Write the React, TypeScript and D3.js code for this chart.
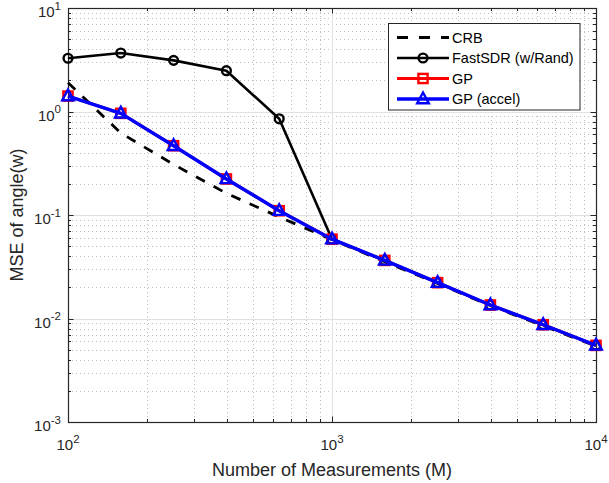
import React from 'react';
import * as d3 from 'd3';

const measurements = [100, 158.49, 251.19, 398.11, 630.96, 1000, 1584.9, 2511.9, 3981.1, 6309.6, 10000];
const crbValues = [1.9, 0.62, 0.308, 0.162, 0.0957, 0.0578, 0.0354, 0.0218, 0.0133, 0.0085, 0.0054];
const fastSdrValues = [3.27, 3.67, 3.12, 2.48, 0.85, 0.0584, 0.0364, 0.0222, 0.0135, 0.0087, 0.0055];
const gpValues = [1.41, 0.96, 0.467, 0.223, 0.110, 0.0584, 0.0364, 0.0222, 0.0135, 0.0087, 0.0055];
const gpAccelValues = [1.41, 0.96, 0.467, 0.223, 0.110, 0.0584, 0.0364, 0.0222, 0.0135, 0.0087, 0.0055];

const xTickValues = [100, 1000, 10000];
const xTickExps = ['2', '3', '4'];
const yTickValues = [1e-3, 1e-2, 1e-1, 1, 10];
const yTickExps = ['-3', '-2', '-1', '0', '1'];
const legendNames = ['CRB', 'FastSDR (w/Rand)', 'GP', 'GP (accel)'];

const W = 609, H = 483;
const L = 68, R = 596, T = 8, B = 422;
const AX = '#262626';
const FONT = "'Liberation Sans', Arial, Helvetica, sans-serif";

function minorVals(lo: number, hi: number) {
  const out: number[] = [];
  for (let d = lo; d < hi; d++) {
    for (let k = 2; k <= 9; k++) out.push(k * Math.pow(10, d));
  }
  return out;
}

function Circle({ x, y }: { x: number; y: number }) {
  return <circle cx={x} cy={y} r={4.4} fill="none" stroke="#000" strokeWidth={2.4} />;
}
function Square({ x, y }: { x: number; y: number }) {
  return <rect x={x - 4.6} y={y - 4.6} width={9.2} height={9.2} fill="none" stroke="#ff0000" strokeWidth={2.4} />;
}
function Tri({ x, y }: { x: number; y: number }) {
  return <path d={`M${x},${y - 6.5}L${x + 5.8},${y + 4.2}L${x - 5.8},${y + 4.2}Z`} fill="none" stroke="#0000ff" strokeWidth={2.4} strokeLinejoin="miter" />;
}

export default function App() {
  const x = d3.scaleLog().domain([100, 10000]).range([L, R]);
  const y = d3.scaleLog().domain([1e-3, 10]).range([B, T]);
  const line = (vals: number[]) =>
    d3.line<number>().x((_, i) => x(measurements[i])).y((v) => y(v))(vals) || '';

  const xMinor = minorVals(2, 4);
  const yMinor = minorVals(-3, 1);

  const legX0 = 397, legX1 = 449, legRow0 = 37.5, legStep = 20.5;

  return (
    <svg width={W} height={H} style={{ position: 'absolute', left: 0, top: 0, background: '#fff' }} fontFamily={FONT}>
      <rect x={0} y={0} width={W} height={H} fill="#fff" />
      {/* minor grid */}
      <g stroke="#bdbdbd" strokeWidth={1} strokeDasharray="1,3">
        {xMinor.map((v) => (
          <line key={'xm' + v} x1={Math.round(x(v)) + 0.5} x2={Math.round(x(v)) + 0.5} y1={T} y2={B} />
        ))}
        {yMinor.map((v) => (
          <line key={'ym' + v} x1={L} x2={R} y1={Math.round(y(v)) + 0.5} y2={Math.round(y(v)) + 0.5} />
        ))}
      </g>
      {/* major grid */}
      <g stroke="#e0e0e0" strokeWidth={1}>
        {xTickValues.map((v) => (
          <line key={'xg' + v} x1={Math.round(x(v)) + 0.5} x2={Math.round(x(v)) + 0.5} y1={T} y2={B} />
        ))}
        {yTickValues.map((v) => (
          <line key={'yg' + v} x1={L} x2={R} y1={Math.round(y(v)) + 0.5} y2={Math.round(y(v)) + 0.5} />
        ))}
      </g>
      {/* ticks */}
      <g stroke={AX} strokeWidth={1}>
        {xMinor.map((v) => {
          const px = Math.round(x(v)) + 0.5;
          return (
            <g key={'xt' + v}>
              <line x1={px} x2={px} y1={B} y2={B - 3} />
              <line x1={px} x2={px} y1={T} y2={T + 3} />
            </g>
          );
        })}
        {xTickValues.map((v) => {
          const px = Math.round(x(v)) + 0.5;
          return (
            <g key={'xT' + v}>
              <line x1={px} x2={px} y1={B} y2={B - 5.5} />
              <line x1={px} x2={px} y1={T} y2={T + 5.5} />
            </g>
          );
        })}
        {yMinor.map((v) => {
          const py = Math.round(y(v)) + 0.5;
          return (
            <g key={'yt' + v}>
              <line x1={L} x2={L + 3} y1={py} y2={py} />
              <line x1={R} x2={R - 3} y1={py} y2={py} />
            </g>
          );
        })}
        {yTickValues.map((v) => {
          const py = Math.round(y(v)) + 0.5;
          return (
            <g key={'yT' + v}>
              <line x1={L} x2={L + 5.5} y1={py} y2={py} />
              <line x1={R} x2={R - 5.5} y1={py} y2={py} />
            </g>
          );
        })}
      </g>
      <rect x={L + 0.5} y={T + 0.5} width={R - L} height={B - T} fill="none" stroke={AX} strokeWidth={1.2} />

      {/* tick labels */}
      <g fill={AX}>
        {xTickValues.map((v, i) => (
          <text key={'xl' + v} x={x(v)} y={450} textAnchor="middle" fontSize={15}>
            <tspan>10</tspan>
            <tspan fontSize={11.5} dy={-7.5}>{xTickExps[i]}</tspan>
          </text>
        ))}
        {yTickValues.map((v, i) => (
          <text key={'yl' + v} x={61} y={y(v) + 9} textAnchor="end" fontSize={15}>
            <tspan>10</tspan>
            <tspan fontSize={11.5} dy={-7.5}>{yTickExps[i]}</tspan>
          </text>
        ))}
      </g>

      {/* axis labels */}
      <text x={(L + R) / 2} y={476} textAnchor="middle" fontSize={18} fill={AX}>
        Number of Measurements (M)
      </text>
      <text transform={`translate(23,${(T + B) / 2}) rotate(-90)`} textAnchor="middle" fontSize={18} fill={AX}>
        MSE of angle(w)
      </text>

      {/* data */}
      <path d={line(crbValues)} fill="none" stroke="#000" strokeWidth={2.8} strokeDasharray="10,10" />
      <path d={line(fastSdrValues)} fill="none" stroke="#000" strokeWidth={2.6} strokeLinejoin="round" />
      {fastSdrValues.map((v, i) => (
        <Circle key={'c' + i} x={x(measurements[i])} y={y(v)} />
      ))}
      <path d={line(gpValues)} fill="none" stroke="#ff0000" strokeWidth={3} />
      {gpValues.map((v, i) => (
        <Square key={'s' + i} x={x(measurements[i])} y={y(v)} />
      ))}
      <path d={line(gpAccelValues)} fill="none" stroke="#0000ff" strokeWidth={3.4} strokeLinejoin="round" />
      {gpAccelValues.map((v, i) => (
        <Tri key={'t' + i} x={x(measurements[i])} y={y(v)} />
      ))}

      {/* legend */}
      <rect x={388.5} y={23.5} width={191.5} height={86.5} fill="#fff" stroke={AX} strokeWidth={1} />
      {legendNames.map((name, i) => {
        const cy = legRow0 + i * legStep;
        const mx = (legX0 + legX1) / 2;
        return (
          <g key={'lg' + i}>
            {i === 0 && <line x1={legX0} x2={legX1} y1={cy} y2={cy} stroke="#000" strokeWidth={2.8} strokeDasharray="11,11" />}
            {i === 1 && (
              <>
                <line x1={legX0} x2={legX1} y1={cy} y2={cy} stroke="#000" strokeWidth={2.6} />
                <Circle x={mx} y={cy} />
              </>
            )}
            {i === 2 && (
              <>
                <line x1={legX0} x2={legX1} y1={cy} y2={cy} stroke="#ff0000" strokeWidth={3} />
                <Square x={mx} y={cy} />
              </>
            )}
            {i === 3 && (
              <>
                <line x1={legX0} x2={legX1} y1={cy} y2={cy} stroke="#0000ff" strokeWidth={3.4} />
                <Tri x={mx} y={cy} />
              </>
            )}
            <text x={452} y={cy + 5.3} fontSize={14.5} fill="#000">
              {name}
            </text>
          </g>
        );
      })}
    </svg>
  );
}
